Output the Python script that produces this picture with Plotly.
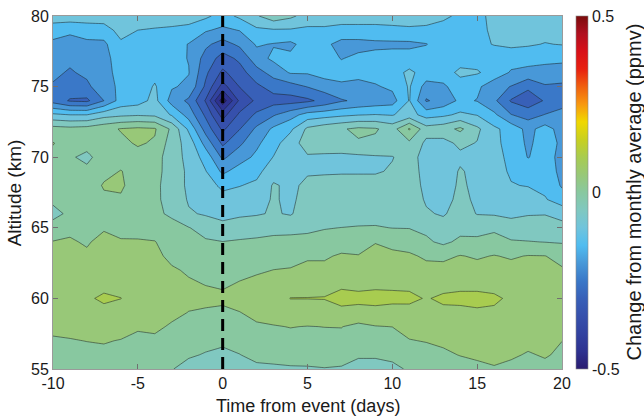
import numpy as np
import plotly.graph_objects as go

# ---------------- data ----------------
days = list(range(-10, 21))            # time from event (days)
altitudes = list(range(55, 81))        # km

# change from monthly average (ppmv); one list per day, altitude 55 -> 80 km
change_by_day = [
    [0.02, 0.03, 0.045, 0.06, 0.07, 0.08, 0.075, 0.07, 0.06, 0.052, 0.02, -0.015, 0.01, 0.02, 0.025, 0.04, 0.052, 0.02, -0.09, -0.22, -0.205, -0.19, -0.17, -0.16, -0.13, -0.07],   # -10
    [0.02, 0.03, 0.047, 0.065, 0.08, 0.09, 0.085, 0.075, 0.065, 0.055, 0.04, 0.01, 0.02, 0.02, 0.015, 0.005, 0.03, 0.015, -0.1, -0.255, -0.22, -0.205, -0.19, -0.17, -0.14, -0.07],  # -9
    [0.02, 0.035, 0.051, 0.07, 0.085, 0.095, 0.09, 0.075, 0.058, 0.045, 0.035, 0.025, 0.025, 0.02, 0.01, -0.01, 0.015, 0.02, -0.1, -0.26, -0.21, -0.19, -0.17, -0.16, -0.13, -0.07],  # -8
    [0.025, 0.04, 0.053, 0.07, 0.09, 0.106, 0.09, 0.08, 0.07, 0.065, 0.045, 0.03, 0.04, 0.055, 0.035, 0.02, 0.03, 0.035, -0.07, -0.2, -0.17, -0.16, -0.16, -0.16, -0.125, -0.07],  # -7
    [0.025, 0.04, 0.048, 0.068, 0.085, 0.1005, 0.09, 0.08, 0.065, 0.053, 0.04, 0.035, 0.045, 0.056, 0.052, 0.03, 0.04, 0.053, -0.06, -0.13, -0.14, -0.14, -0.135, -0.11, -0.08, -0.07],  # -6
    [0.02, 0.03, 0.04, 0.055, 0.07, 0.085, 0.08, 0.075, 0.065, 0.054, 0.035, 0.03, 0.03, 0.03, 0.03, 0.035, 0.055, 0.06, -0.055, -0.12, -0.13, -0.13, -0.13, -0.12, -0.1, -0.07],  # -5
    [0.015, 0.03, 0.042, 0.058, 0.07, 0.08, 0.075, 0.07, 0.06, 0.052, 0.025, 0.006, 0.008, 0.01, 0.015, 0.02, 0.045, 0.055, -0.06, -0.085, -0.095, -0.115, -0.125, -0.12, -0.105, -0.07],  # -4
    [0.002, 0.015, 0.03, 0.045, 0.06, 0.07, 0.065, 0.055, 0.04, 0.025, 0.01, -0.005, -0.015, -0.02, -0.02, -0.025, -0.025, -0.01, -0.105, -0.17, -0.145, -0.14, -0.135, -0.13, -0.11, -0.07],  # -3
    [-0.015, 0.005, 0.02, 0.035, 0.049, 0.06, 0.055, 0.045, 0.03, 0.015, 0.002, -0.045, -0.055, -0.06, -0.06, -0.065, -0.07, -0.11, -0.17, -0.21, -0.16, -0.148, -0.152, -0.152, -0.12, -0.07],  # -2
    [-0.02, -0.003, 0.012, 0.03, 0.045, 0.06, 0.049, 0.035, 0.02, 0.006, -0.02, -0.055, -0.07, -0.08, -0.098, -0.12, -0.17, -0.22, -0.26, -0.305, -0.26, -0.24, -0.22, -0.19, -0.145, -0.09],  # -1
    [-0.03, -0.01, 0.008, 0.025, 0.042, 0.058, 0.045, 0.032, 0.015, 0.001, -0.035, -0.065, -0.085, -0.11, -0.16, -0.21, -0.26, -0.31, -0.37, -0.48, -0.37, -0.31, -0.27, -0.22, -0.16, -0.12],  # 0
    [-0.015, -0.001, 0.015, 0.033, 0.049, 0.065, 0.053, 0.04, 0.025, 0.004, -0.02, -0.06, -0.075, -0.102, -0.13, -0.17, -0.21, -0.252, -0.29, -0.34, -0.298, -0.27, -0.24, -0.19, -0.148, -0.09],  # 1
    [-0.01, 0.012, 0.03, 0.045, 0.06, 0.075, 0.06, 0.045, 0.03, 0.006, -0.015, -0.055, -0.07, -0.09, -0.115, -0.14, -0.16, -0.19, -0.24, -0.29, -0.26, -0.22, -0.17, -0.145, -0.11, -0.055],  # 2
    [-0.008, 0.015, 0.035, 0.048, 0.065, 0.08, 0.068, 0.0505, 0.035, 0.01, -0.012, -0.045, -0.045, -0.045, -0.07, -0.098, -0.12, -0.14, -0.205, -0.27, -0.23, -0.18, -0.14, -0.153, -0.105, -0.02],  # 3
    [-0.006, 0.02, 0.04, 0.051, 0.075, 0.101, 0.08, 0.052, 0.04, 0.01, -0.01, -0.055, -0.06, -0.06, -0.06, -0.065, -0.07, -0.11, -0.17, -0.27, -0.22, -0.145, -0.14, -0.16, -0.105, -0.04],  # 4
    [-0.005, 0.02, 0.04, 0.049, 0.075, 0.101, 0.085, 0.06, 0.045, 0.012, -0.008, -0.02, -0.03, -0.04, -0.055, -0.055, -0.03, -0.04, -0.13, -0.26, -0.198, -0.145, -0.13, -0.13, -0.11, -0.07],  # 5
    [-0.002, 0.02, 0.04, 0.0505, 0.075, 0.102, 0.085, 0.06, 0.045, 0.015, -0.002, -0.02, -0.025, -0.035, -0.055, -0.06, -0.02, -0.02, -0.12, -0.235, -0.175, -0.13, -0.13, -0.14, -0.11, -0.07],  # 6
    [-0.005, 0.02, 0.04, 0.051, 0.085, 0.118, 0.09, 0.07, 0.055, 0.03, 0.0005, -0.02, -0.025, -0.03, -0.055, -0.065, -0.01, -0.005, -0.11, -0.205, -0.16, -0.13, -0.152, -0.165, -0.12, -0.07],  # 7
    [-0.015, 0.005, 0.025, 0.04, 0.08, 0.115, 0.085, 0.07, 0.052, 0.03, 0.003, -0.02, -0.025, -0.03, -0.055, -0.06, -0.005, 0.01, -0.102, -0.19, -0.16, -0.14, -0.14, -0.165, -0.12, -0.07],  # 8
    [-0.015, 0.005, 0.03, 0.048, 0.085, 0.116, 0.09, 0.075, 0.065, 0.048, 0.004, -0.02, -0.025, -0.03, -0.055, -0.055, -0.01, 0.005, -0.098, -0.18, -0.155, -0.13, -0.135, -0.16, -0.12, -0.07],  # 9
    [-0.01, 0.01, 0.03, 0.0505, 0.08, 0.113, 0.09, 0.075, 0.058, 0.04, -0.001, -0.02, -0.025, -0.03, -0.045, -0.052, -0.02, -0.02, -0.103, -0.17, -0.14, -0.12, -0.13, -0.16, -0.115, -0.07],  # 10
    [0.005, 0.025, 0.048, 0.065, 0.085, 0.11, 0.09, 0.075, 0.055, 0.035, -0.002, -0.02, -0.025, -0.03, -0.03, -0.03, -0.01, 0.055, -0.08, -0.097, -0.095, -0.09, -0.13, -0.16, -0.11, -0.07],  # 11
    [0.01, 0.035, 0.052, 0.07, 0.085, 0.097, 0.08, 0.06, 0.045, 0.008, -0.01, -0.045, -0.055, -0.06, -0.065, -0.07, -0.06, -0.03, -0.12, -0.205, -0.17, -0.12, -0.125, -0.152, -0.11, -0.08],  # 12
    [0.015, 0.04, 0.06, 0.075, 0.09, 0.108, 0.085, 0.065, 0.04, -0.01, -0.03, -0.055, -0.07, -0.08, -0.08, -0.08, -0.065, -0.02, -0.11, -0.18, -0.16, -0.12, -0.12, -0.12, -0.12, -0.09],  # 13
    [0.025, 0.052, 0.065, 0.08, 0.09, 0.11, 0.09, 0.07, 0.052, 0.01, -0.015, -0.03, -0.035, -0.04, -0.045, -0.06, -0.04, 0.01, -0.09, -0.14, -0.12, -0.09, -0.12, -0.12, -0.12, -0.11],  # 14
    [0.035, 0.06, 0.07, 0.085, 0.095, 0.11, 0.09, 0.065, 0.045, 0.012, -0.02, -0.052, -0.06, -0.065, -0.065, -0.06, -0.052, -0.04, -0.102, -0.152, -0.14, -0.095, -0.12, -0.11, -0.115, -0.11],  # 15
    [0.045, 0.065, 0.075, 0.085, 0.095, 0.105, 0.09, 0.07, 0.052, 0.02, -0.01, -0.055, -0.07, -0.08, -0.085, -0.08, -0.09, -0.09, -0.14, -0.19, -0.18, -0.12, -0.125, -0.098, -0.09, -0.09],  # 16
    [0.035, 0.058, 0.07, 0.08, 0.09, 0.095, 0.085, 0.065, 0.045, 0.005, -0.03, -0.06, -0.08, -0.098, -0.105, -0.115, -0.115, -0.12, -0.198, -0.255, -0.202, -0.155, -0.13, -0.09, -0.08, -0.07],  # 17
    [0.025, 0.045, 0.065, 0.075, 0.085, 0.09, 0.08, 0.065, 0.052, 0.002, -0.03, -0.053, -0.08, -0.102, -0.12, -0.152, -0.16, -0.165, -0.22, -0.28, -0.24, -0.165, -0.13, -0.095, -0.08, -0.07],  # 18
    [0.035, 0.055, 0.065, 0.075, 0.085, 0.09, 0.08, 0.065, 0.051, -0.001, -0.03, -0.052, -0.095, -0.115, -0.13, -0.13, -0.125, -0.13, -0.198, -0.245, -0.205, -0.17, -0.135, -0.102, -0.085, -0.07],  # 19
    [0.03, 0.04, 0.0505, 0.065, 0.08, 0.085, 0.075, 0.055, 0.035, -0.004, -0.04, -0.06, -0.13, -0.155, -0.16, -0.165, -0.16, -0.17, -0.18, -0.225, -0.21, -0.17, -0.14, -0.098, -0.09, -0.07],  # 20
]

level_start, level_end, level_step = -0.5, 0.5, 0.05
event_day = 0

# colour map (value -> colour)
cmap_values = [-0.5, -0.45, -0.4, -0.35, -0.3, -0.25, -0.2, -0.15, -0.1, -0.05,
               0.0, 0.05, 0.1, 0.15, 0.2, 0.25, 0.3, 0.35, 0.4, 0.45, 0.5]
cmap_colors = ["#2a1c70", "#2e3290", "#3242a0", "#3650ac", "#3860b8", "#3a78c8",
               "#4898d8", "#50bcf0", "#70c4dc", "#80c8c0", "#88c8a0", "#98c878",
               "#a8cc50", "#c8d020", "#f0d800", "#f89810", "#f06010", "#e82010",
               "#d81018", "#b01020", "#7a0c0c"]

z = np.array(change_by_day).T

# colour bar scale (continuous, -0.5 .. 0.5)
bar_scale = [[(v - level_start) / (level_end - level_start), c]
             for v, c in zip(cmap_values, cmap_colors)]

# fill scale: plotly fills band [L, L+s] with colour at L + s/2 over domain
# [start - s/2, end + s/2]; shift so each band gets the colour of its lower level
n_lev = int(round((level_end - level_start) / level_step)) + 1
dom_lo = level_start - level_step / 2
dom_span = n_lev * level_step
fill_scale = [[0.0, cmap_colors[0]]]
for v, c in zip(cmap_values, cmap_colors):
    f = (v + level_step / 2 - dom_lo) / dom_span
    fill_scale.append([min(max(f, 0.0), 1.0), c])
if fill_scale[-1][0] < 1.0:
    fill_scale.append([1.0, cmap_colors[-1]])

TXT = "#1a1a1a"
FONT = "Liberation Sans, Arial, Helvetica, sans-serif"

fig = go.Figure()
fig.add_trace(go.Contour(
    x=days, y=altitudes, z=z,
    colorscale=fill_scale,
    autocontour=False,
    contours=dict(start=level_start, end=level_end, size=level_step,
                  coloring="fill", showlines=True),
    line=dict(color="rgba(25,30,30,0.85)", width=0.6, smoothing=0),
    showscale=False, hoverinfo="skip",
))

fig.add_trace(go.Scatter(
    x=[None], y=[None], mode="markers", hoverinfo="skip", showlegend=False,
    marker=dict(color=[0], colorscale=bar_scale, cmin=level_start, cmax=level_end,
                showscale=True,
                colorbar=dict(thickness=12, len=1, lenmode="fraction",
                              y=0.5, yanchor="middle", x=1.0275, xanchor="left",
                              xpad=0, ypad=0, outlinewidth=0.6, outlinecolor="#8a8a8a",
                              tickvals=[-0.5, 0, 0.5], ticktext=["-0.5", "0", "0.5"],
                              ticks="", tickfont=dict(size=16, color=TXT))),
))

fig.add_shape(type="line", xref="x", yref="y",
              x0=event_day, x1=event_day, y0=altitudes[0], y1=altitudes[-1],
              line=dict(color="black", width=3, dash="12px,7px"))

axis_style = dict(ticks="inside", ticklen=5, tickwidth=1, tickcolor="#707070",
                  showline=True, linecolor="#9a9a9a", linewidth=1, mirror="ticks",
                  showgrid=False, zeroline=False,
                  tickfont=dict(size=16, color=TXT))

fig.update_xaxes(range=[days[0], days[-1]],
                 tickvals=[-10, -5, 0, 5, 10, 15, 20],
                 ticktext=["-10", "-5", "0", "5", "10", "15", "20"],
                 **axis_style)
fig.update_yaxes(range=[altitudes[0], altitudes[-1]],
                 tickvals=[55, 60, 65, 70, 75, 80],
                 **axis_style)

# axis and colour-bar titles as annotations (exact placement)
fig.add_annotation(text="Time from event (days)", xref="paper", yref="paper",
                   x=0.5, y=-0.105, xanchor="center", yanchor="middle",
                   showarrow=False, font=dict(size=18, color=TXT, family=FONT))
fig.add_annotation(text="Altitude (km)", xref="paper", yref="paper",
                   x=-0.075, y=0.5, xanchor="center", yanchor="middle", textangle=-90,
                   showarrow=False, font=dict(size=19, color=TXT, family=FONT))
fig.add_annotation(text="Change from monthly average (ppmv)", xref="paper", yref="paper",
                   x=1.1395, y=0.5, xanchor="center", yanchor="middle", textangle=-90,
                   showarrow=False, font=dict(size=20, color=TXT, family=FONT))

fig.update_layout(width=644, height=417,
                  margin=dict(l=53, r=82, t=16, b=48, autoexpand=False),
                  paper_bgcolor="white", plot_bgcolor="white",
                  font=dict(family=FONT, size=16),
                  showlegend=False)

fig.write_html("out.html")
